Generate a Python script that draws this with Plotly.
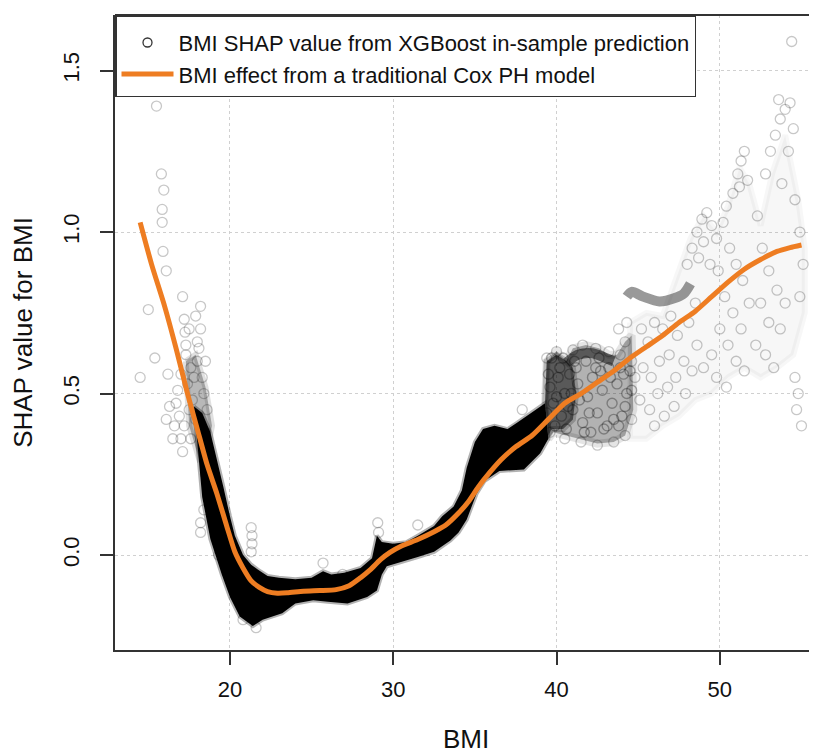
import plotly.graph_objects as go

# ---------------- data ----------------
# Cox PH BMI effect curve
cox_bmi = [14.5, 15.2, 16.0, 16.7, 17.4, 18.0, 18.6, 19.2, 19.8, 20.3, 20.8, 21.3, 21.8,
           22.3, 22.9, 23.5, 24.5, 25.5, 26.5, 27.3, 28.0, 28.6, 29.2, 29.8, 30.5, 31.5,
           32.5, 33.2, 34.0, 34.6, 35.2, 35.9, 36.6, 37.5, 38.5, 39.5, 40.5, 41.5, 42.5,
           43.5, 44.5, 45.5, 46.5, 47.5, 48.5, 49.5, 50.5, 51.5, 52.5, 53.5, 54.3, 55.0]
cox_effect = [1.03, 0.90, 0.77, 0.64, 0.50, 0.39, 0.28, 0.19, 0.09, 0.01, -0.04, -0.08, -0.10,
              -0.113, -0.118, -0.117, -0.112, -0.11, -0.107, -0.095, -0.07, -0.045, -0.015, 0.008,
              0.028, 0.048, 0.072, 0.092, 0.13, 0.165, 0.21, 0.255, 0.295, 0.335, 0.37, 0.42,
              0.47, 0.50, 0.535, 0.57, 0.61, 0.645, 0.68, 0.72, 0.755, 0.80, 0.845, 0.885,
              0.915, 0.94, 0.952, 0.96]

# dense (solid black) core of SHAP points: upper edge left->right, lower edge right->left
core_top_x = [17.8, 18.3, 18.8, 19.2, 19.6, 20.0, 20.3, 20.8, 21.3, 21.7, 22.3, 23.0, 24.0,
              25.0, 25.7, 26.2, 27.0, 28.0, 28.7, 29.0, 29.3, 30.0, 30.8, 31.5, 32.5, 33.0,
              33.7, 34.2, 34.5, 35.0, 35.5, 36.2, 37.0, 37.6, 38.2, 38.8, 39.3]
core_top_y = [0.46, 0.44, 0.38, 0.30, 0.21, 0.12, 0.06, 0.0, -0.03, -0.045, -0.065, -0.07, -0.075,
              -0.07, -0.05, -0.06, -0.055, -0.04, -0.01, 0.06, 0.04, 0.035, 0.04, 0.06, 0.09, 0.12,
              0.15, 0.20, 0.27, 0.35, 0.39, 0.40, 0.39, 0.41, 0.43, 0.45, 0.47]
core_bot_x = [39.5, 39.0, 38.0, 37.0, 36.5, 35.6, 35.1, 34.5, 34.0, 33.5, 32.5, 31.5, 30.5,
              29.6, 29.3, 29.0, 28.4, 27.2, 26.0, 25.1, 24.0, 23.2, 22.0, 21.4, 20.6, 20.0,
              19.5, 18.8, 18.3, 18.1, 17.9]
core_bot_y = [0.36, 0.315, 0.265, 0.26, 0.26, 0.23, 0.19, 0.11, 0.07, 0.045, 0.01, -0.006, -0.02,
              -0.035, -0.06, -0.11, -0.13, -0.15, -0.145, -0.14, -0.15, -0.18, -0.20, -0.22, -0.19,
              -0.13, -0.06, 0.05, 0.18, 0.28, 0.38]

# medium-dark cloud at low BMI
low_cloud_x = [17.3, 17.9, 18.5, 18.9, 18.6, 18.1, 17.5]
low_cloud_y = [0.60, 0.62, 0.52, 0.40, 0.32, 0.30, 0.40]

# grey cloud, BMI 39-45, and its darker left part
mid_cloud_x = [39.3, 39.4, 40.0, 40.6, 41.0, 41.8, 42.6, 43.2, 43.7, 44.2, 44.6,
               44.7, 44.2, 43.5, 42.5, 41.5, 40.5, 39.8, 39.5]
mid_cloud_y = [0.47, 0.60, 0.63, 0.60, 0.64, 0.65, 0.64, 0.62, 0.62, 0.66, 0.68,
               0.45, 0.37, 0.35, 0.345, 0.36, 0.37, 0.38, 0.36]
mid_dark_x = [39.3, 39.4, 40.0, 40.6, 41.0, 41.2, 41.0, 40.4, 39.7, 39.5]
mid_dark_y = [0.47, 0.60, 0.62, 0.60, 0.58, 0.50, 0.42, 0.39, 0.39, 0.37]
# dark streaks of overlapping points (centre lines)
mid_streak_x = [40.6, 41.3, 42.2, 43.0, 43.5]
mid_streak_y = [0.595, 0.62, 0.625, 0.61, 0.60]
high_streak_x = [44.3, 44.6, 45.3, 46.3, 47.2, 47.8, 48.2]
high_streak_y = [0.80, 0.815, 0.80, 0.785, 0.795, 0.81, 0.84]

# light grey cloud, BMI 44-55
high_cloud_x = [44.5, 45.5, 46.5, 47.5, 48.2, 49.0, 49.8, 50.5, 51.2, 51.8, 52.5, 53.2, 54.0,
                54.8, 55.2, 55.2, 54.5, 53.5, 52.5, 51.5, 50.5, 49.5, 48.5, 47.5, 46.5, 45.5, 44.5]
high_cloud_y = [0.72, 0.75, 0.74, 0.88, 0.98, 1.05, 1.00, 1.08, 1.20, 1.15, 1.02, 1.18, 1.30,
                1.10, 0.95, 0.75, 0.62, 0.58, 0.55, 0.58, 0.55, 0.50, 0.48, 0.43, 0.40, 0.36, 0.36]

# points inside the 39-45 grey cloud
mid_x = [39.4, 39.6, 39.8, 40.1, 40.3, 40.5, 40.8, 41.0, 41.3, 41.6, 41.9, 42.2, 42.5, 42.8,
         43.1, 43.4, 43.7, 44.0, 44.3, 44.5, 39.5, 39.9, 40.2, 40.6, 40.9, 41.2, 41.7, 42.0,
         42.4, 42.9, 43.3, 43.8, 44.2, 44.6, 40.0, 40.7, 41.4, 42.1, 42.7, 43.5, 44.1, 39.7,
         40.4, 41.1, 41.8, 42.6, 43.2, 43.9]
mid_y = [0.44, 0.52, 0.47, 0.55, 0.43, 0.50, 0.56, 0.45, 0.53, 0.41, 0.49, 0.55, 0.44, 0.51,
         0.40, 0.47, 0.53, 0.43, 0.50, 0.57, 0.56, 0.40, 0.58, 0.39, 0.50, 0.58, 0.38, 0.44,
         0.58, 0.39, 0.55, 0.40, 0.46, 0.51, 0.49, 0.46, 0.48, 0.38, 0.57, 0.42, 0.56, 0.61,
         0.61, 0.60, 0.60, 0.61, 0.58, 0.58]

# individual (sparse) SHAP points
shap_x = [15.5, 15.8, 15.95, 15.85, 15.85, 15.9, 16.1, 15.0, 15.4, 14.5, 17.1, 17.2, 17.25, 17.3,
          17.3, 18.2, 18.2, 18.1, 16.2, 16.3, 16.1, 16.5, 17.1, 16.8, 16.7, 17.7, 17.9, 18.5,
          18.65, 17.0, 17.4, 17.6, 17.8, 18.0, 18.3, 16.9, 17.2, 17.5, 18.4, 18.6, 17.0, 17.6,
          16.6, 18.0, 17.5, 17.9, 18.5, 18.5, 18.8, 19.0, 19.3, 18.2, 18.2, 18.4,
          21.3, 21.35, 21.35, 21.3, 25.7, 26.9, 29.05, 29.1, 31.5, 37.9, 21.6, 20.8,
          39.4, 40.0, 41.0, 41.6, 42.4, 43.2, 40.5, 41.5, 42.5, 43.5, 44.2, 44.6, 39.6, 44.8,
          44.6, 44.2, 43.8, 44.3, 43.9,
          45.2, 45.6, 46.0, 46.5, 47.0, 45.3, 45.8, 46.3, 46.9, 47.4, 45.1, 45.7, 46.2, 46.8,
          47.3, 47.8, 46.0, 46.6, 47.2, 47.9, 48.3, 48.6, 48.1, 48.5,
          48.0, 48.3, 48.6, 48.9, 49.2, 49.5, 49.0, 48.7, 49.8, 50.2, 49.4, 49.9,
          50.4, 50.8, 51.1, 51.3, 51.5, 51.2, 51.7, 50.6, 51.0, 51.4, 50.3, 50.8, 51.3, 51.8,
          50.0, 50.5, 51.0, 51.5, 49.5, 49.0, 49.8, 50.4,
          52.3, 52.8, 53.1, 53.4, 53.7, 54.0, 54.3, 53.6, 54.5, 54.2, 53.8, 54.6, 54.9, 52.6,
          53.0, 53.5, 54.0, 52.5, 53.0, 53.7, 52.2, 52.8, 53.3, 54.4, 54.6, 54.8, 54.7, 55.0,
          54.9, 55.1]
shap_y = [1.39, 1.18, 1.13, 1.07, 1.03, 0.94, 0.88, 0.76, 0.61, 0.55, 0.80, 0.73, 0.69, 0.65,
          0.62, 0.77, 0.70, 0.64, 0.56, 0.46, 0.42, 0.36, 0.32, 0.51, 0.47, 0.48, 0.42, 0.38,
          0.32, 0.56, 0.53, 0.58, 0.55, 0.60, 0.55, 0.43, 0.40, 0.45, 0.50, 0.45, 0.36, 0.36,
          0.40, 0.66, 0.70, 0.74, 0.60, 0.25, 0.20, 0.10, 0.0, 0.10, 0.07, 0.14,
          0.085, 0.06, 0.035, 0.01, -0.025, -0.06, 0.10, 0.07, 0.093, 0.45, -0.225, -0.20,
          0.61, 0.63, 0.635, 0.65, 0.64, 0.63, 0.36, 0.35, 0.34, 0.35, 0.37, 0.42, 0.38, 0.55,
          0.60, 0.66, 0.70, 0.72, 0.62,
          0.70, 0.66, 0.72, 0.70, 0.74, 0.58, 0.55, 0.60, 0.62, 0.68, 0.48, 0.45, 0.50, 0.52,
          0.55, 0.60, 0.40, 0.43, 0.46, 0.50, 0.57, 0.65, 0.72, 0.78,
          0.90, 0.95, 1.00, 1.04, 1.06, 1.02, 0.97, 0.92, 0.98, 1.03, 0.90, 0.88,
          1.08, 1.12, 1.18, 1.22, 1.25, 1.14, 1.16, 0.95, 0.90, 0.85, 0.80, 0.75, 0.70, 0.78,
          0.70, 0.65, 0.60, 0.57, 0.62, 0.58, 0.55, 0.52,
          1.05, 1.18, 1.25, 1.30, 1.35, 1.38, 1.40, 1.41, 1.32, 1.25, 1.15, 1.10, 1.00, 0.95,
          0.88, 0.82, 0.78, 0.78, 0.72, 0.70, 0.65, 0.62, 0.58, 1.59, 0.55, 0.50, 0.45, 0.40,
          0.80, 0.90]

x_ticks = [20, 30, 40, 50]
y_ticks = [0.0, 0.5, 1.0, 1.5]

legend_labels = ["BMI SHAP value from XGBoost in-sample prediction",
                 "BMI effect from a traditional Cox PH model"]

# ---------------- figure ----------------
FONT = "Liberation Sans, Arial, Helvetica, sans-serif"
ORANGE = "#EE7D22"
AXIS_COL = "#333333"
FS = 22

fig = go.Figure()


def blob(xs, ys, fill, edge, lw):
    fig.add_trace(go.Scatter(x=list(xs) + [xs[0]], y=list(ys) + [ys[0]], mode="lines",
                             fill="toself", fillcolor=fill,
                             line=dict(color=edge, width=lw),
                             hoverinfo="skip", showlegend=False))


def streak(xs, ys, col, lw):
    fig.add_trace(go.Scatter(x=xs, y=ys, mode="lines",
                             line=dict(color=col, width=lw, shape="spline", smoothing=0.8),
                             hoverinfo="skip", showlegend=False))


blob(high_cloud_x, high_cloud_y, "rgba(0,0,0,0.03)", "rgba(0,0,0,0.03)", 6)
blob(mid_cloud_x, mid_cloud_y, "rgba(0,0,0,0.3)", "rgba(0,0,0,0.1)", 8)
blob(mid_dark_x, mid_dark_y, "rgba(0,0,0,0.5)", "rgba(0,0,0,0.2)", 6)
blob(low_cloud_x, low_cloud_y, "rgba(0,0,0,0.28)", "rgba(0,0,0,0.12)", 6)

fig.add_trace(go.Scatter(x=mid_x, y=mid_y, mode="markers",
                         marker=dict(symbol="circle-open", size=10, color="rgba(0,0,0,0.3)",
                                     line=dict(width=1.4)),
                         showlegend=False, hoverinfo="skip"))
streak(mid_streak_x, mid_streak_y, "rgba(0,0,0,0.5)", 10)
streak(high_streak_x, high_streak_y, "rgba(0,0,0,0.4)", 10)

blob(core_top_x + core_bot_x, core_top_y + core_bot_y, "rgba(0,0,0,1)", "rgba(0,0,0,0.3)", 4)

fig.add_trace(go.Scatter(x=shap_x, y=shap_y, mode="markers",
                         marker=dict(symbol="circle-open", size=10, color="rgba(0,0,0,0.22)",
                                     line=dict(width=1.3)),
                         showlegend=False, hoverinfo="skip"))

# legend entries
fig.add_trace(go.Scatter(x=[None], y=[None], mode="markers", name=legend_labels[0],
                         marker=dict(symbol="circle-open", size=9, color="#333333",
                                     line=dict(width=1.3))))
fig.add_trace(go.Scatter(x=cox_bmi, y=cox_effect, mode="lines", name=legend_labels[1],
                         line=dict(color=ORANGE, width=5, shape="spline", smoothing=0.6)))

# the page body has an 8px margin: the figure is sized so that it ends at the window edge
fig.update_layout(
    width=809, height=746,
    margin=dict(l=107, r=0, t=7, b=104),
    paper_bgcolor="white", plot_bgcolor="white",
    font=dict(family=FONT, size=FS, color="#111111"),
    showlegend=True,
    legend=dict(x=0, y=1, xanchor="left", yanchor="top",
                bgcolor="white", bordercolor=AXIS_COL, borderwidth=1.5,
                font=dict(family=FONT, size=FS, color="#111111"),
                title=dict(text=" ", font=dict(size=4)),
                itemwidth=52),
    xaxis=dict(range=[12.96, 55.95], tickvals=x_ticks, ticks="outside", ticklen=13,
               tickwidth=1.5, tickcolor=AXIS_COL, showline=True, linecolor=AXIS_COL,
               linewidth=2, mirror=False, showgrid=True, gridcolor="#d0d0d0",
               griddash="dot", gridwidth=1.2, zeroline=False, automargin=False,
               ticklabelstandoff=6,
               title=dict(text="BMI", standoff=40), tickfont=dict(size=FS)),
    yaxis=dict(range=[-0.294, 1.672], tickvals=y_ticks, tickformat=".1f", ticks="outside",
               ticklen=13, tickwidth=1.5, tickcolor=AXIS_COL, showline=True,
               linecolor=AXIS_COL, linewidth=2, mirror=False, showgrid=True,
               gridcolor="#d0d0d0", griddash="dot", gridwidth=1.2, zeroline=False,
               automargin=False, ticklabelstandoff=12,
               tickangle=-90, title=dict(text="SHAP value for BMI", standoff=30),
               tickfont=dict(size=FS)),
    shapes=[dict(type="line", xref="paper", yref="paper", x0=0, x1=1, y0=1, y1=1,
                 line=dict(color=AXIS_COL, width=2))],
)

fig.write_html("out.html")
